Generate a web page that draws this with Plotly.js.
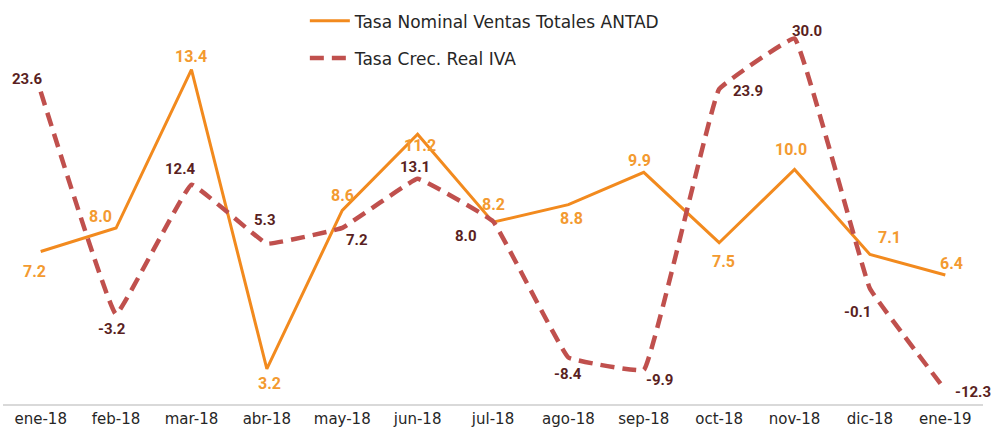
<!DOCTYPE html>
<html>
<head>
<meta charset="utf-8">
<script src="https://cdn.plot.ly/plotly-3.0.1.min.js"></script>
<style>html,body{margin:0;padding:0;background:#fff;}#chart{width:995px;height:431px;}</style>
</head>
<body>
<div id="chart"></div>
<script>
const months = ["ene-18","feb-18","mar-18","abr-18","may-18","jun-18","jul-18","ago-18","sep-18","oct-18","nov-18","dic-18","ene-19"];
const antad = [7.2, 8.0, 13.4, 3.2, 8.6, 11.2, 8.2, 8.8, 9.9, 7.5, 10.0, 7.1, 6.4];
const iva = [23.6, -3.2, 12.4, 5.3, 7.2, 13.1, 8.0, -8.4, -9.9, 23.9, 30.0, -0.1, -12.3];
const antadName = "Tasa Nominal Ventas Totales ANTAD";
const ivaName = "Tasa Crec. Real IVA";

// label offsets in pixels (style only)
const antadOff = [[-6,20],[-16,-12],[0,-13],[3,15],[0,-15],[2,11],[0,-18],[3,14],[-4,-12],[4,19],[-4,-20],[20,-17],[6,-11]];
const ivaOff = [[-13,-13],[-4,15],[-11,-16],[-2,-24],[15,12],[-3,-12],[-27,15],[0,17],[16,10],[29,2],[12,-7],[-12,23],[28,2]];

const orange = "#F28A1E";
const orangeText = "#F39A30";
const red = "#C0504D";
const darkText = "#5A1F22";

const traces = [
  {x: months, y: antad, name: antadName, type: "scatter", mode: "lines",
   line: {color: orange, width: 3}, legendgroup: "a", yaxis: "y"},
  {x: months, y: iva, name: ivaName, type: "scatter", mode: "lines",
   line: {color: red, width: 4.5, dash: "14px,8px", shape: "spline", smoothing: 0.2}, legendgroup: "b", yaxis: "y2"}
];

const annotations = [];
months.forEach((m, i) => {
  annotations.push({x: m, y: antad[i], yref: "y", xref: "x", text: antad[i].toFixed(1),
    showarrow: false, xshift: antadOff[i][0], yshift: -antadOff[i][1],
    font: {family: "Roboto, 'Open Sans', sans-serif", size: 16, color: orangeText, weight: 700}});
  annotations.push({x: m, y: iva[i], yref: "y2", xref: "x", text: iva[i].toFixed(1),
    showarrow: false, xshift: ivaOff[i][0], yshift: -ivaOff[i][1],
    font: {family: "Roboto, 'Open Sans', sans-serif", size: 15, color: darkText, weight: 700}});
});

const layout = {
  width: 995, height: 431,
  margin: {l: 3, r: 12, t: 20, b: 27},
  paper_bgcolor: "#fff", plot_bgcolor: "#fff",
  showlegend: true,
  legend: {x: 0.308, xanchor: "left", y: 1.06, yanchor: "top", traceorder: "grouped", tracegroupgap: 12,
    itemwidth: 40,
    font: {family: "'DejaVu Sans', sans-serif", size: 17, color: "#262626"}, bgcolor: "rgba(0,0,0,0)"},
  xaxis: {type: "category", showline: true, linecolor: "#D9D9D9", linewidth: 1.5, showgrid: false,
    ticks: "", tickfont: {family: "'DejaVu Sans', sans-serif", size: 15, color: "#262626"}, zeroline: false,
    range: [-0.5, 12.5]},
  yaxis: {range: [2, 14.89], visible: false, showgrid: false, zeroline: false},
  yaxis2: {range: [-14, 31.5], overlaying: "y", visible: false, showgrid: false, zeroline: false},
  annotations: annotations
};

Plotly.newPlot("chart", traces, layout, {displayModeBar: false, staticPlot: true});
</script>
</body>
</html>
